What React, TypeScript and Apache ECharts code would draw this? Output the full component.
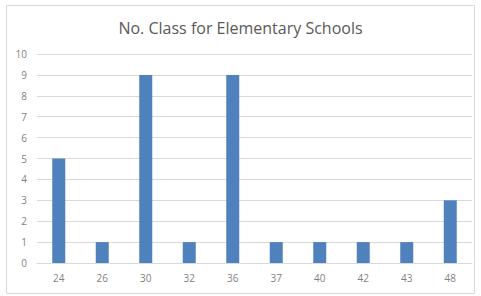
import React, { useEffect, useRef } from "react";
import * as echarts from "echarts";

const categories = ["24", "26", "30", "32", "36", "37", "40", "42", "43", "48"];
const counts = [5, 1, 9, 1, 9, 1, 1, 1, 1, 3];
const titleText = "No. Class for Elementary Schools";

export default function App() {
  const ref = useRef<HTMLDivElement>(null);
  useEffect(() => {
    if (!ref.current) return;
    const chart = echarts.init(ref.current, null, { renderer: "svg" });
    chart.setOption({
      animation: false,
      backgroundColor: "#ffffff",
      title: {
        text: titleText,
        left: "center",
        top: 15,
        textStyle: {
          fontFamily: "Open Sans",
          fontSize: 16,
          fontWeight: "normal",
          color: "#595959",
        },
      },
      graphic: [
        {
          type: "rect",
          shape: { x: 6.5, y: 5.5, width: 468, height: 288 },
          style: { fill: "none", stroke: "#d9d9d9", lineWidth: 1 },
          silent: true,
        },
      ],
      grid: { left: 37, right: 9, top: 54, bottom: 33, containLabel: false },
      xAxis: {
        type: "category",
        data: categories,
        axisTick: { show: false },
        axisLine: { lineStyle: { color: "#d9d9d9" } },
        axisLabel: {
          color: "#7f7f7f",
          fontFamily: "Open Sans",
          fontSize: 10,
          margin: 10,
        },
      },
      yAxis: {
        type: "value",
        min: 0,
        max: 10,
        interval: 1,
        axisLine: { show: false },
        axisTick: { show: false },
        splitLine: { lineStyle: { color: "#d9d9d9" } },
        axisLabel: {
          color: "#7f7f7f",
          fontFamily: "Open Sans",
          fontSize: 10,
          margin: 10,
        },
      },
      series: [
        {
          type: "bar",
          data: counts,
          barWidth: 13,
          itemStyle: { color: "#4f81bd" },
        },
      ],
    });
    return () => chart.dispose();
  }, []);
  return (
    <div
      ref={ref}
      style={{ position: "fixed", left: 0, top: 0, width: 481, height: 296 }}
    />
  );
}
